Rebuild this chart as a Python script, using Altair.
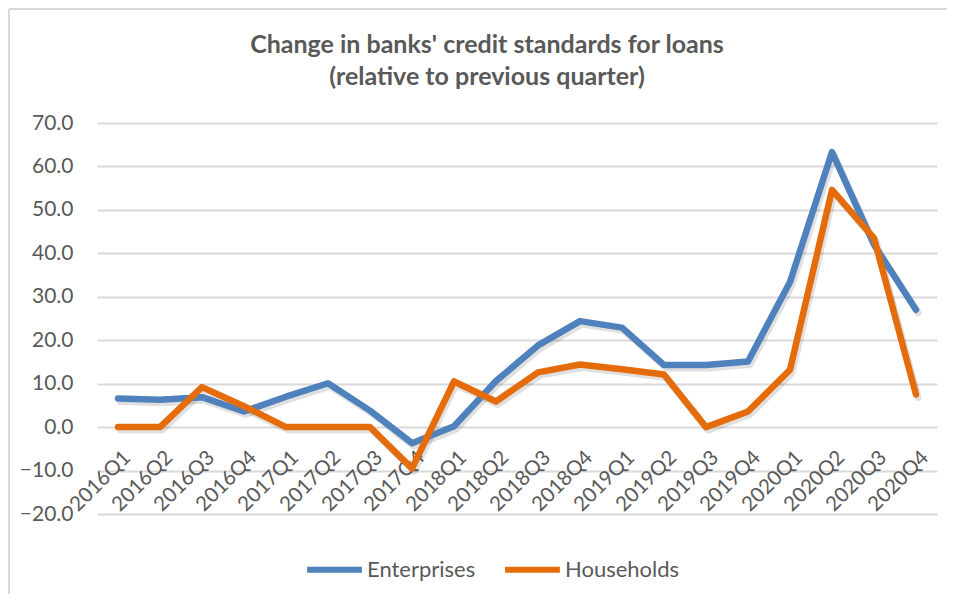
import altair as alt
import pandas as pd

quarters = ["2016Q1", "2016Q2", "2016Q3", "2016Q4", "2017Q1", "2017Q2", "2017Q3", "2017Q4",
            "2018Q1", "2018Q2", "2018Q3", "2018Q4", "2019Q1", "2019Q2", "2019Q3", "2019Q4",
            "2020Q1", "2020Q2", "2020Q3", "2020Q4"]
enterprises = [6.6, 6.3, 6.9, 3.6, 7.0, 10.1, 3.8, -3.7, 0.2, 10.6, 18.8, 24.4, 22.9, 14.3,
               14.3, 15.1, 33.4, 63.3, 42.0, 27.0]
households = [0.0, 0.0, 9.2, 4.8, 0.0, 0.0, 0.0, -9.5, 10.5, 5.9, 12.6, 14.4, 13.3, 12.1,
              0.0, 3.6, 13.2, 54.6, 43.5, 7.5]
series_names = ["Enterprises", "Households"]
colors = ["#4F81BD", "#E46C0A"]
y_ticks = [-20, -10, 0, 10, 20, 30, 40, 50, 60, 70]
title_lines = ["Change in banks' credit standards for loans", "(relative to previous quarter)"]

rows = []
for q, e, h in zip(quarters, enterprises, households):
    rows.append({"quarter": q, "series": series_names[0], "value": e})
    rows.append({"quarter": q, "series": series_names[1], "value": h})
df = pd.DataFrame(rows)
one = pd.DataFrame({"k": [0]})

FONT = "Lato"
GREY = "#595959"
PLOT_W, PLOT_H = 840, 391

x_enc = alt.X("quarter:N", sort=quarters,
              scale=alt.Scale(type="point", padding=0.5),
              axis=alt.Axis(title=None, labelAngle=-45, labelAlign="right", labelBaseline="middle",
                            labelFont=FONT, labelFontSize=20.5, labelColor=GREY,
                            domain=False, ticks=False, tickSize=0, grid=False,
                            labelPadding=27, labelOffset=9, offset=-87, labelOverlap=False))
y_enc = alt.Y("value:Q", scale=alt.Scale(domain=[-20, 70], nice=False),
              axis=alt.Axis(title=None, values=y_ticks, format=".1f",
                            labelFont=FONT, labelFontSize=21, labelColor=GREY,
                            domain=False, ticks=False, labelPadding=24,
                            grid=True, gridColor="#D9D9D9", gridWidth=2))

shadow = alt.Chart(df).mark_line(strokeWidth=7, color="#000000", opacity=0.12,
                                 xOffset=2, yOffset=3, strokeCap="round", strokeJoin="round").encode(
    x=x_enc, y=y_enc, detail="series:N")

lines = alt.Chart(df).mark_line(strokeWidth=6.5, strokeCap="round", strokeJoin="round").encode(
    x=x_enc, y=y_enc,
    color=alt.Color("series:N", sort=series_names,
                    scale=alt.Scale(domain=series_names, range=colors),
                    legend=alt.Legend(title=None, orient="none", legendX=207, legendY=416,
                                      direction="horizontal", symbolType="stroke",
                                      symbolStrokeWidth=6, symbolSize=3000,
                                      labelFont=FONT, labelFontSize=22, labelColor=GREY,
                                      labelOffset=2, columnPadding=17)))

frame_left = alt.Chart(one).mark_rule(color="#D9D9D9", strokeWidth=2).encode(
    x=alt.value(-88), y=alt.value(-114), y2=alt.value(480))
frame_top = alt.Chart(one).mark_rule(color="#D9D9D9", strokeWidth=2).encode(
    x=alt.value(-88), x2=alt.value(860), y=alt.value(-114))

title1 = alt.Chart(one).mark_text(text=title_lines[0], font=FONT, fontSize=25, fontWeight="bold",
                                  color=GREY, align="center", baseline="middle").encode(
    x=alt.value(390), y=alt.value(-78))
title2 = alt.Chart(one).mark_text(text=title_lines[1], font=FONT, fontSize=25, fontWeight="bold",
                                  color=GREY, align="center", baseline="middle").encode(
    x=alt.value(390), y=alt.value(-46))

chart = alt.layer(frame_left, frame_top, title1, title2, shadow, lines).properties(
    width=PLOT_W, height=PLOT_H,
    autosize=alt.AutoSizeParams(type="none"),
    padding={"left": 89, "top": 115, "right": 10, "bottom": 80},
).configure(background="white", view=alt.ViewConfig(stroke="transparent", strokeWidth=0))

chart.save("out.html", embed_options={"renderer": "svg", "actions": False})
